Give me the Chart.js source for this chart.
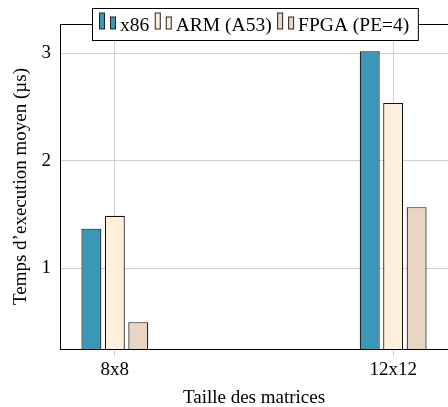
<!DOCTYPE html>
<html>
<head>
<meta charset="utf-8">
<script src="https://cdn.jsdelivr.net/npm/chart.js@4"></script>
<style>
  html, body { margin: 0; padding: 0; background: #fff; }
  #wrap { width: 448px; height: 407px; }
</style>
</head>
<body>
<div id="wrap"><canvas id="chart" width="448" height="407"></canvas></div>
<script>
const categories = ['8x8', '12x12'];
const seriesNames = ['x86', 'ARM (A53)', 'FPGA (PE=4)'];
const x86Values = [1.37, 3.02];
const armValues = [1.49, 2.54];
const fpgaValues = [0.50, 1.57];
const yTicks = [1, 2, 3];

const colors = ['#3a97b7', '#fff0dc', '#e8d5c3'];
const FONT = '"Liberation Serif", "Times New Roman", serif';

const toPoints = (vals) => vals.map((v, i) => ({ x: i, y: v }));

// pgfplots-style legend box sitting on the top frame line
const frameLegend = {
  id: 'frameLegend',
  afterDraw(chart) {
    const { ctx, chartArea } = chart;
    ctx.save();
    ctx.strokeStyle = '#000';
    ctx.lineWidth = 1;
    ctx.beginPath();
    ctx.moveTo(chartArea.left, chartArea.top + 0.5);
    ctx.lineTo(chart.width, chartArea.top + 0.5);
    ctx.stroke();

    ctx.font = '19.5px ' + FONT;
    const items = chart.data.datasets.map(ds => ({
      label: ds.label, color: ds.backgroundColor, w: 20.5 + ctx.measureText(ds.label).width
    }));
    const gap = 6, padL = 7, padR = 9;
    const total = items.reduce((s, it) => s + it.w, 0) + gap * (items.length - 1) + padL + padR;
    const cx = (chartArea.left + 449) / 2;
    const bx = Math.round(cx - total / 2) + 0.5;
    const by = 8.5, bh = 32;
    ctx.fillStyle = '#fff';
    ctx.fillRect(bx, by, total, bh);
    ctx.strokeRect(bx, by, total, bh);

    let x = bx + padL;
    const base = by + 20.5;
    items.forEach(it => {
      ctx.fillStyle = it.color;
      ctx.strokeStyle = '#222';
      ctx.fillRect(x, base - 16, 5, 16);
      ctx.strokeRect(x, base - 16, 5, 16);
      ctx.fillRect(x + 11, base - 12, 5, 12);
      ctx.strokeRect(x + 11, base - 12, 5, 12);
      ctx.fillStyle = '#000';
      ctx.textBaseline = 'middle';
      ctx.fillText(it.label, x + 20.5, by + bh / 2 + 1);
      x += it.w + gap;
    });
    ctx.restore();
  }
};

new Chart(document.getElementById('chart'), {
  type: 'bar',
  data: {
    datasets: [
      { label: seriesNames[0], data: toPoints(x86Values), backgroundColor: colors[0] },
      { label: seriesNames[1], data: toPoints(armValues), backgroundColor: colors[1] },
      { label: seriesNames[2], data: toPoints(fpgaValues), backgroundColor: colors[2] }
    ]
  },
  options: {
    responsive: false,
    animation: false,
    layout: { padding: { top: 24, right: -1 } },
    datasets: {
      bar: {
        borderColor: '#111',
        borderWidth: 1.2,
        borderSkipped: false,
        categoryPercentage: 0.2527,
        barPercentage: 0.851
      }
    },
    plugins: { legend: { display: false }, tooltip: { enabled: false } },
    scales: {
      x: {
        type: 'linear',
        offset: false,
        min: -0.197,
        max: 1.197,
        grid: { color: '#d0d0d0', tickLength: 7, offset: false },
        border: { color: '#000' },
        ticks: {
          stepSize: 1,
          includeBounds: false,
          color: '#000',
          font: { family: FONT, size: 19 },
          padding: 3,
          callback: (v) => categories[v] ?? ''
        },
        title: {
          display: true,
          text: 'Taille des matrices',
          color: '#000',
          font: { family: FONT, size: 19 },
          padding: { top: 0, bottom: -2 }
        },
        afterFit: (s) => { s.height = 58; }
      },
      y: {
        min: 0.25,
        max: 3.274,
        grid: { color: '#d0d0d0', drawTicks: false },
        border: { color: '#000' },
        afterBuildTicks: (s) => { s.ticks = yTicks.map(v => ({ value: v })); },
        ticks: {
          color: '#000',
          font: { family: FONT, size: 19 },
          padding: 9
        },
        title: {
          display: true,
          text: 'Temps d\u2019execution moyen (\u00b5s)',
          color: '#000',
          font: { family: FONT, size: 19 },
          padding: { top: 10, bottom: 0 }
        },
        afterFit: (s) => { s.width = 60; }
      }
    }
  },
  plugins: [frameLegend]
});
</script>
</body>
</html>
